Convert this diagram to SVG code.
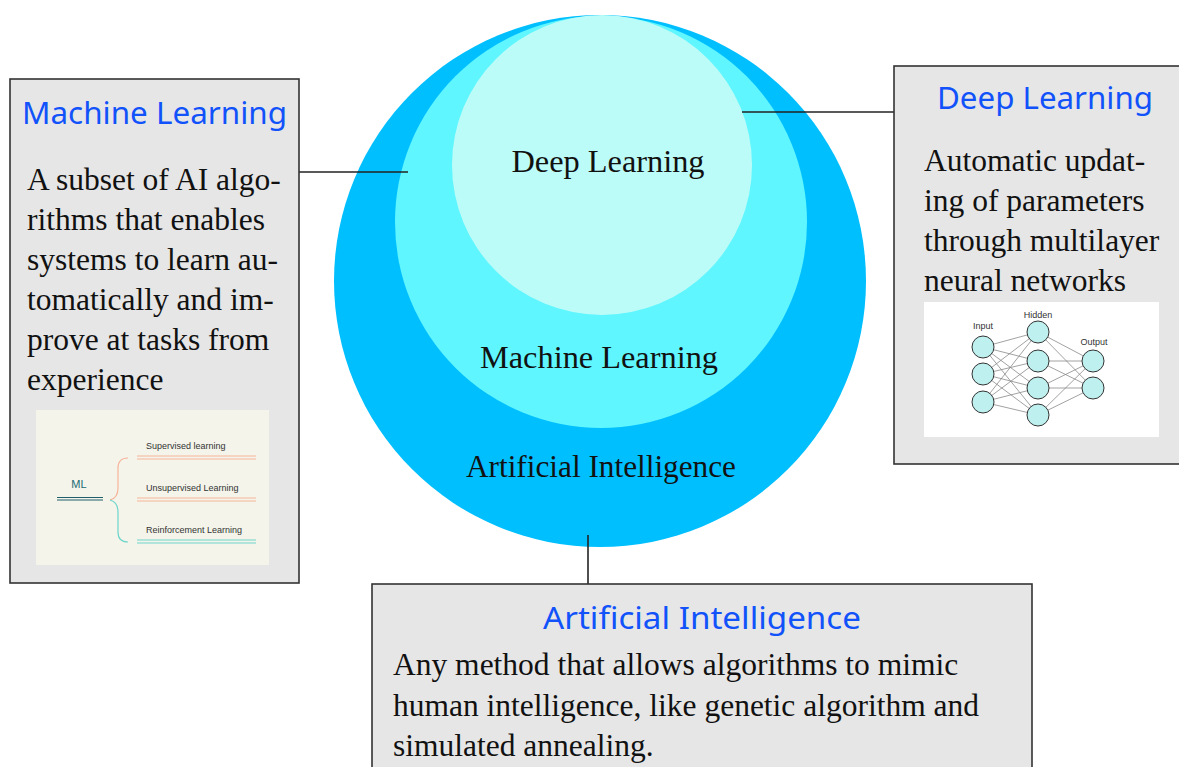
<svg xmlns="http://www.w3.org/2000/svg" width="1179" height="767" viewBox="0 0 1179 767">
  <style>
    .box { fill: #e6e6e6; stroke: #333; stroke-width: 1.6; }
    .head { font-family: "Noto Sans", "DejaVu Sans", sans-serif; font-size: 30px; fill: #1152fa; }
    .body { font-family: "Liberation Serif", "Times New Roman", serif; font-size: 31.5px; fill: #111; }
    .ring { font-family: "Liberation Serif", "Times New Roman", serif; font-size: 31px; fill: #111; text-anchor: middle; }
    .link { stroke: #222; stroke-width: 1.6; fill: none; }
    .small { font-family: "Liberation Sans", Arial, sans-serif; font-size: 9px; fill: #333; }
    .nn-node { fill: #bdf0ee; stroke: #333; stroke-width: 1; }
    .nn-edge { stroke: #8a8a8a; stroke-width: 0.8; }
  </style>

  <rect width="1179" height="767" fill="#ffffff"/>

  <!-- nested circles -->
  <g id="circle-ai">
    <circle cx="600" cy="281" r="266" fill="#00bfff"/>
    <text class="ring" x="601" y="477" textLength="270" lengthAdjust="spacingAndGlyphs">Artificial Intelligence</text>
  </g>
  <g id="circle-ml">
    <circle cx="601" cy="222" r="206" fill="#5ff6ff"/>
    <text class="ring" x="599" y="368" textLength="238" lengthAdjust="spacingAndGlyphs">Machine Learning</text>
  </g>
  <g id="circle-dl">
    <circle cx="602" cy="165" r="150" fill="#bcfcf8"/>
    <text class="ring" x="608" y="172" textLength="193" lengthAdjust="spacingAndGlyphs">Deep Learning</text>
  </g>

  <!-- connectors -->
  <g id="connectors">
    <line class="link" x1="299" y1="172" x2="408" y2="172"/>
    <line class="link" x1="742" y1="112" x2="894" y2="112"/>
    <line class="link" x1="588" y1="535" x2="588" y2="584"/>
  </g>

  <!-- Machine Learning card -->
  <g id="box-ml">
    <rect class="box" x="10" y="79" width="289" height="504"/>
    <text class="head" x="22" y="124" textLength="265" lengthAdjust="spacingAndGlyphs">Machine  Learning</text>
    <text class="body" x="27" y="190">A subset of AI algo-</text>
    <text class="body" x="27" y="230">rithms that enables</text>
    <text class="body" x="27" y="270">systems to learn au-</text>
    <text class="body" x="27" y="310">tomatically and im-</text>
    <text class="body" x="27" y="350">prove at tasks from</text>
    <text class="body" x="27" y="390">experience</text>

    <!-- ML branch sketch -->
    <g id="ml-sketch">
      <rect x="36" y="410" width="233" height="155" fill="#f4f4ea"/>
      <text x="79" y="488" text-anchor="middle" font-family="Liberation Sans, Arial, sans-serif" font-size="11" fill="#1a6b74">ML</text>
      <line x1="57" y1="497.5" x2="103" y2="497.5" stroke="#1f5f6b" stroke-width="1"/>
      <line x1="57" y1="500" x2="103" y2="500" stroke="#1f5f6b" stroke-width="1"/>
      <path d="M110 500 Q118 498 118 488 L118 468 Q118 458 128 458" fill="none" stroke="#f7b49a" stroke-width="1.2"/>
      <path d="M110 500 Q118 502 118 512 L118 532 Q118 542 128 542" fill="none" stroke="#6dd5cc" stroke-width="1.2"/>
      <text class="small" x="146" y="449">Supervised learning</text>
      <line x1="137" y1="456" x2="256" y2="456" stroke="#f7b49a" stroke-width="1"/>
      <line x1="137" y1="459" x2="256" y2="459" stroke="#f7b49a" stroke-width="1"/>
      <text class="small" x="146" y="491">Unsupervised Learning</text>
      <line x1="137" y1="498" x2="256" y2="498" stroke="#f7b49a" stroke-width="1"/>
      <line x1="137" y1="501" x2="256" y2="501" stroke="#f7b49a" stroke-width="1"/>
      <text class="small" x="146" y="533">Reinforcement Learning</text>
      <line x1="137" y1="540" x2="256" y2="540" stroke="#6dd5cc" stroke-width="1"/>
      <line x1="137" y1="543" x2="256" y2="543" stroke="#6dd5cc" stroke-width="1"/>
    </g>
  </g>

  <!-- Deep Learning card -->
  <g id="box-dl">
    <rect class="box" x="894" y="66" width="300" height="398"/>
    <text class="head" x="937" y="109" textLength="216" lengthAdjust="spacingAndGlyphs">Deep  Learning</text>
    <text class="body" x="924" y="171">Automatic updat-</text>
    <text class="body" x="924" y="211">ing of parameters</text>
    <text class="body" x="924" y="251">through multilayer</text>
    <text class="body" x="924" y="291">neural networks</text>

    <!-- neural network sketch -->
    <g id="nn-sketch">
      <rect x="924" y="302" width="235" height="135" fill="#ffffff"/>
      <g class="nn-edge">
        <line x1="983" y1="347" x2="1038" y2="332"/>
        <line x1="983" y1="347" x2="1038" y2="361"/>
        <line x1="983" y1="347" x2="1038" y2="388"/>
        <line x1="983" y1="347" x2="1038" y2="415"/>
        <line x1="983" y1="374" x2="1038" y2="332"/>
        <line x1="983" y1="374" x2="1038" y2="361"/>
        <line x1="983" y1="374" x2="1038" y2="388"/>
        <line x1="983" y1="374" x2="1038" y2="415"/>
        <line x1="983" y1="402" x2="1038" y2="332"/>
        <line x1="983" y1="402" x2="1038" y2="361"/>
        <line x1="983" y1="402" x2="1038" y2="388"/>
        <line x1="983" y1="402" x2="1038" y2="415"/>
        <line x1="1038" y1="332" x2="1093" y2="361"/>
        <line x1="1038" y1="332" x2="1093" y2="388"/>
        <line x1="1038" y1="361" x2="1093" y2="361"/>
        <line x1="1038" y1="361" x2="1093" y2="388"/>
        <line x1="1038" y1="388" x2="1093" y2="361"/>
        <line x1="1038" y1="388" x2="1093" y2="388"/>
        <line x1="1038" y1="415" x2="1093" y2="361"/>
        <line x1="1038" y1="415" x2="1093" y2="388"/>
      </g>
      <circle class="nn-node" cx="983" cy="347" r="11"/>
      <circle class="nn-node" cx="983" cy="374" r="11"/>
      <circle class="nn-node" cx="983" cy="402" r="11"/>
      <circle class="nn-node" cx="1038" cy="332" r="11"/>
      <circle class="nn-node" cx="1038" cy="361" r="11"/>
      <circle class="nn-node" cx="1038" cy="388" r="11"/>
      <circle class="nn-node" cx="1038" cy="415" r="11"/>
      <circle class="nn-node" cx="1093" cy="361" r="11"/>
      <circle class="nn-node" cx="1093" cy="388" r="11"/>
      <text class="small" x="983" y="329" text-anchor="middle">Input</text>
      <text class="small" x="1038" y="318" text-anchor="middle">Hidden</text>
      <text class="small" x="1094" y="345" text-anchor="middle">Output</text>
    </g>
  </g>

  <!-- Artificial Intelligence card -->
  <g id="box-ai">
    <rect class="box" x="372" y="584" width="660" height="200"/>
    <text class="head" x="543" y="629" textLength="318" lengthAdjust="spacingAndGlyphs">Artificial  Intelligence</text>
    <text class="body" x="393" y="675">Any method that allows algorithms to mimic</text>
    <text class="body" x="393" y="716">human intelligence, like genetic algorithm and</text>
    <text class="body" x="393" y="756">simulated annealing.</text>
  </g>
</svg>
